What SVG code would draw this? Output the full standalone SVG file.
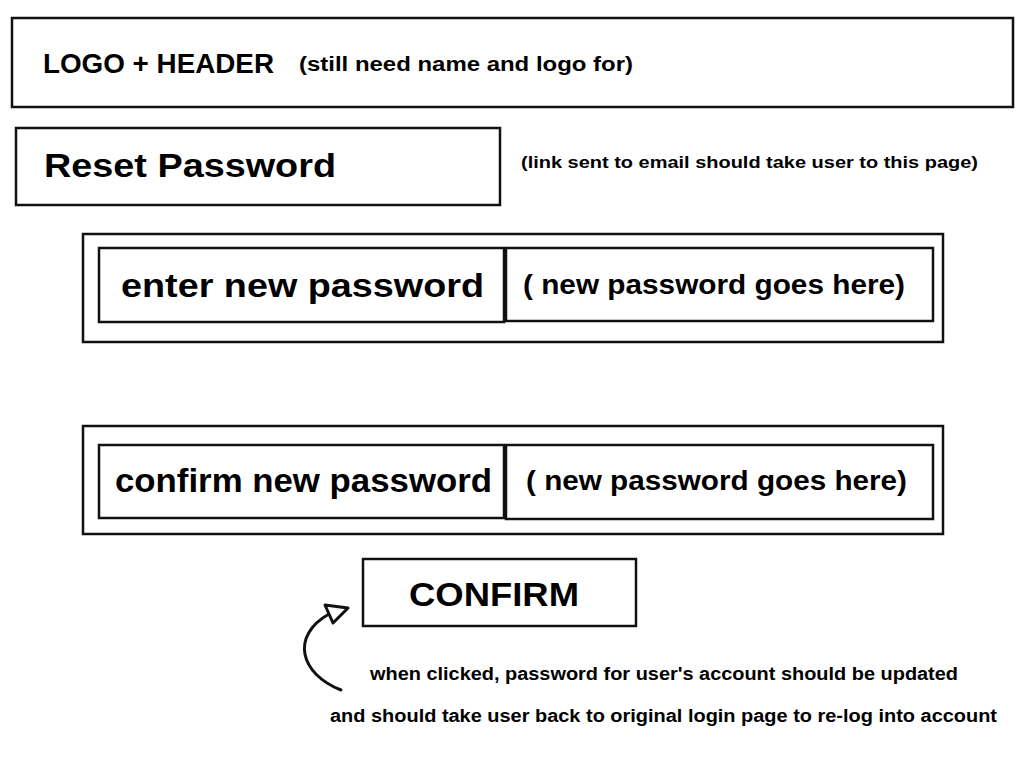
<svg xmlns="http://www.w3.org/2000/svg" width="1024" height="768" viewBox="0 0 1024 768">
<style>
.box{fill:none;stroke:#111;stroke-width:2.5}
text{font-family:"Liberation Sans",Arial,sans-serif;font-weight:bold;fill:#000}
.big{font-size:34px}
.mid{font-size:28px}
.sm{font-size:18px}
.curve{fill:none;stroke:#111;stroke-width:3;stroke-linecap:round}
.tri{fill:#fff;stroke:#111;stroke-width:3;stroke-linejoin:round}
</style>
<rect width="1024" height="768" fill="#fff"/>
<g id="header">
<rect class="box" x="12" y="18" width="1001" height="89"/>
<text x="43" y="73" style="font-size:27px" textLength="231" lengthAdjust="spacingAndGlyphs">LOGO + HEADER</text>
<text x="299" y="71" style="font-size:20px" textLength="334" lengthAdjust="spacingAndGlyphs">(still need name and logo for)</text>
</g>
<g id="title">
<rect class="box" x="16" y="128" width="484" height="77"/>
<text x="44" y="177" class="big" textLength="292" lengthAdjust="spacingAndGlyphs">Reset Password</text>
<text x="521" y="168" style="font-size:17px" textLength="457" lengthAdjust="spacingAndGlyphs">(link sent to email should take user to this page)</text>
</g>
<g id="enter-row">
<rect class="box" x="83" y="234" width="860" height="108"/>
<rect class="box" x="99" y="248" width="405" height="74"/>
<rect class="box" x="506" y="248" width="427" height="73"/>
<text x="121" y="297" class="big" textLength="363" lengthAdjust="spacingAndGlyphs">enter new password</text>
<text x="523" y="294" class="mid" textLength="382" lengthAdjust="spacingAndGlyphs">( new password goes here)</text>
</g>
<g id="confirm-row">
<rect class="box" x="83" y="426" width="860" height="108"/>
<rect class="box" x="99" y="445" width="405" height="73"/>
<rect class="box" x="506" y="445" width="427" height="74"/>
<text x="115" y="492" class="big" textLength="377" lengthAdjust="spacingAndGlyphs">confirm new password</text>
<text x="526" y="490" class="mid" textLength="381" lengthAdjust="spacingAndGlyphs">( new password goes here)</text>
</g>
<g id="confirm-button">
<rect class="box" x="363" y="559" width="273" height="67"/>
<text x="409" y="606" class="big" textLength="170" lengthAdjust="spacingAndGlyphs">CONFIRM</text>
</g>
<g id="connectors">
<path class="curve" d="M341,690 C300,674 290,636 329,614"/>
<polygon class="tri" points="325,605 348,608 333,623"/>
</g>
<g id="note">
<text x="370" y="680" class="sm" textLength="588" lengthAdjust="spacingAndGlyphs">when clicked, password for user's account should be updated</text>
<text x="330" y="722" class="sm" textLength="667" lengthAdjust="spacingAndGlyphs">and should take user back to original login page to re-log into account</text>
</g>
</svg>
